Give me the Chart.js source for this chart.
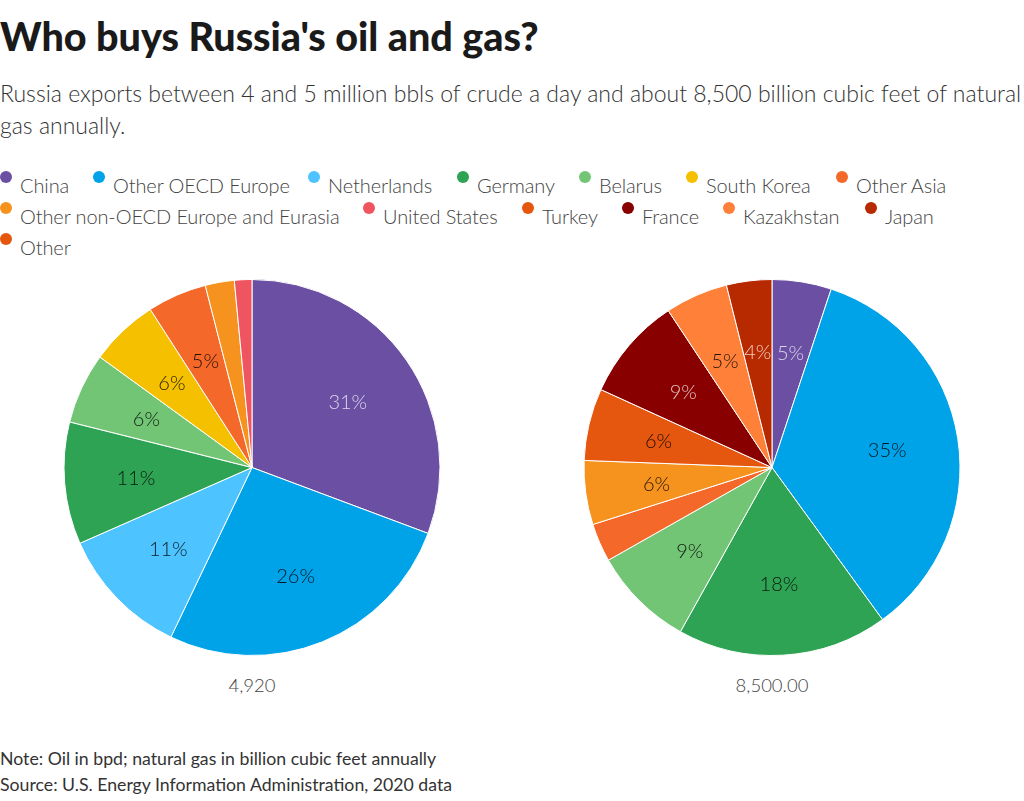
<!DOCTYPE html>
<html><head><meta charset="utf-8">
<script src="https://cdn.jsdelivr.net/npm/chart.js@4"></script>
<style>
html,body{margin:0;padding:0;background:#fff;width:1024px;height:801px;overflow:hidden}
body{position:relative;font-family:"Lato","Noto Sans",sans-serif;color:#404040}
div{position:absolute;white-space:nowrap}
#title{left:0;top:12px;font:900 39.5px "Lato",sans-serif;color:#1a1a1a}
.sub{left:0;font-size:23px;font-weight:300;color:#333}
.leg{font-size:20px;font-weight:300;color:#444;letter-spacing:-.1px}
.dot{width:12px;height:12px;border-radius:50%}
.foot{left:0;font-size:17.7px;color:#333}
.cap{font-size:18.5px;font-weight:300;color:#444;transform:translateX(-50%)}
canvas{position:absolute}
</style></head><body>
<div id="title">Who buys Russia's oil and gas?</div>
<div class="sub" style="top:79px">Russia exports between 4 and 5 million bbls of crude a day and about 8,500 billion cubic feet of natural</div>
<div class="sub" style="top:111px">gas annually.</div>
<div id="legend"></div>
<canvas id="oil"></canvas><canvas id="gas"></canvas>
<div class="cap" style="left:252px;top:674px">4,920</div>
<div class="cap" style="left:772px;top:674px">8,500.00</div>
<div class="foot" style="top:748px">Note: Oil in bpd; natural gas in billion cubic feet annually</div>
<div class="foot" style="top:774px">Source: U.S. Energy Information Administration, 2020 data</div>
<script>
const oilLabels=["China","Other OECD Europe","Netherlands","Germany","Belarus","South Korea","Other Asia","Other non-OECD Europe and Eurasia","United States"];
const oilValues=[30.7,26.4,11.3,10.5,6.1,5.9,5.1,2.5,1.5];
const oilColors=["#6a4fa3","#00a2e8","#4dc3ff","#2fa354","#73c576","#f5c000","#f4682a","#f6921e","#ef5560"];
const gasLabels=["China","Other OECD Europe","Germany","Belarus","Other Asia","Other non-OECD Europe and Eurasia","Turkey","France","Kazakhstan","Japan"];
const gasValues=[5.1,34.9,18.1,8.7,3.3,5.5,6.2,8.9,5.4,3.9];
const gasColors=["#6a4fa3","#00a2e8","#2fa354","#73c576","#f4682a","#f6921e","#e5560e","#880000","#ff8038","#b72a00"];
const legendRows=[
 [["China",0,"#6a4fa3"],["Other OECD Europe",93,"#00a2e8"],["Netherlands",308,"#4dc3ff"],["Germany",457,"#2fa354"],["Belarus",579,"#73c576"],["South Korea",686,"#f5c000"],["Other Asia",836,"#f4682a"]],
 [["Other non-OECD Europe and Eurasia",0,"#f6921e"],["United States",363,"#ef5560"],["Turkey",522,"#e5560e"],["France",622,"#880000"],["Kazakhstan",723,"#ff8038"],["Japan",865,"#b72a00"]],
 [["Other",0,"#e5560e"]]];
const lg=document.getElementById('legend');
legendRows.forEach((r,i)=>r.forEach(([t,x,c])=>{
 const y=174+i*31;
 lg.insertAdjacentHTML('beforeend',`<div class="dot" style="left:${x}px;top:${y-3}px;background:${c}"></div><div class="leg" style="left:${x+20}px;top:${y-1}px">${t}</div>`);
}));
const pctLabels={id:'pct',afterDatasetsDraw(ch){
 const c=ch.ctx,ds=ch.data.datasets[0];
 ch.getDatasetMeta(0).data.forEach((a,i)=>{
  const v=ds.data[i];
  if(v<3.8)return;
  const mid=(a.startAngle+a.endAngle)/2,r=a.outerRadius*0.62;
  c.save();c.font='300 20px Lato,sans-serif';c.textAlign='center';c.textBaseline='middle';
  c.fillStyle=['#6a4fa3','#880000','#b72a00'].includes(ds.backgroundColor[i])?'rgba(255,255,255,.75)':'rgba(0,0,0,.85)';
  c.fillText(Math.round(v)+'%',a.x+Math.cos(mid)*r,a.y+Math.sin(mid)*r+1);
  c.restore();
 });
}};
function pie(id,cx,data,colors,labels){
 const el=document.getElementById(id),s=382;
 const wrap=document.createElement('div');wrap.style.cssText=`left:${cx-s/2}px;top:277px;width:${s}px;height:${s}px`;
 document.body.appendChild(wrap);wrap.appendChild(el);el.style.left=0;el.style.top=0;
 new Chart(el,{type:'pie',data:{labels,datasets:[{data,backgroundColor:colors,borderColor:'#fff',borderWidth:1}]},
  options:{responsive:true,maintainAspectRatio:false,animation:false,layout:{padding:{top:2,bottom:3,left:1,right:1}},plugins:{legend:{display:false},tooltip:{enabled:false}}},plugins:[pctLabels]});
}
pie('oil',252,oilValues,oilColors,oilLabels);
pie('gas',772,gasValues,gasColors,gasLabels);
</script>
</body></html>
